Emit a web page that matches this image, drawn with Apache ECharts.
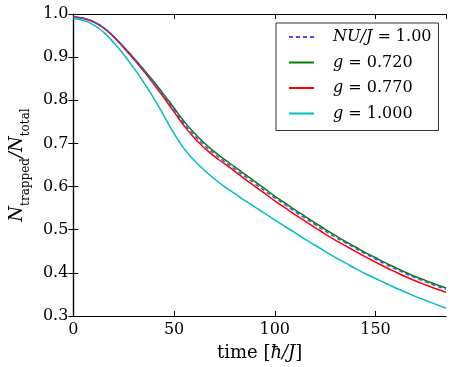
<!DOCTYPE html>
<html>
<head>
<meta charset="utf-8">
<script src="https://cdn.jsdelivr.net/npm/echarts@6/dist/echarts.min.js"></script>
<style>
  html, body { margin: 0; padding: 0; background: #fff; }
  #chart { width: 453px; height: 367px; }
</style>
</head>
<body>
<div id="chart"></div>
<script>
// time axis (hbar/J), one sample every 5
const times = [0, 5, 10, 15, 20, 25, 30, 35, 40, 45, 50, 55, 60, 65, 70, 75, 80, 85, 90, 95,
  100, 105, 110, 115, 120, 125, 130, 135, 140, 145, 150, 155, 160, 165, 170, 175, 180, 185];

// N_trapped / N_total
const ratioNU = [0.993, 0.990, 0.982, 0.968, 0.948, 0.923, 0.897, 0.869, 0.840, 0.810, 0.778, 0.746,
  0.719, 0.696, 0.676, 0.658, 0.641, 0.624, 0.607, 0.590, 0.574, 0.558, 0.542, 0.527, 0.512, 0.497,
  0.483, 0.470, 0.457, 0.444, 0.432, 0.420, 0.409, 0.398, 0.388, 0.379, 0.370, 0.362];
const ratioG072 = [0.993, 0.990, 0.982, 0.968, 0.948, 0.924, 0.898, 0.871, 0.843, 0.813, 0.782, 0.751,
  0.724, 0.701, 0.681, 0.663, 0.646, 0.629, 0.612, 0.595, 0.578, 0.562, 0.546, 0.531, 0.516, 0.501,
  0.487, 0.473, 0.460, 0.447, 0.435, 0.423, 0.412, 0.401, 0.391, 0.382, 0.373, 0.365];
const ratioG077 = [0.993, 0.990, 0.982, 0.968, 0.947, 0.922, 0.895, 0.867, 0.837, 0.806, 0.773, 0.741,
  0.713, 0.690, 0.670, 0.653, 0.636, 0.618, 0.601, 0.584, 0.567, 0.551, 0.535, 0.520, 0.505, 0.490,
  0.476, 0.463, 0.450, 0.437, 0.425, 0.413, 0.402, 0.391, 0.381, 0.372, 0.363, 0.355];
const ratioG100 = [0.989, 0.985, 0.975, 0.958, 0.934, 0.906, 0.875, 0.841, 0.804, 0.764, 0.723, 0.688,
  0.661, 0.638, 0.618, 0.600, 0.584, 0.568, 0.553, 0.538, 0.523, 0.508, 0.493, 0.478, 0.464, 0.450,
  0.436, 0.423, 0.410, 0.398, 0.387, 0.376, 0.365, 0.355, 0.345, 0.336, 0.327, 0.318];

const xTicks = [0, 50, 100, 150];
const yTicks = [0.3, 0.4, 0.5, 0.6, 0.7, 0.8, 0.9, 1.0];

const serif = "'DejaVu Serif', 'Liberation Serif', serif";

function pairs(ys) {
  return times.map((t, i) => [t, ys[i]]);
}

// legend labels with italic symbols
const legendText = {
  "NU/J = 1.00": "{i|NU/J} = 1.00",
  "g = 0.720": "{i|g} = 0.720",
  "g = 0.770": "{i|g} = 0.770",
  "g = 1.000": "{i|g} = 1.000",
};

function line(name, ys, color, dashed, z) {
  return {
    name: name,
    type: "line",
    data: pairs(ys),
    showSymbol: false,
    symbol: "none",
    smooth: 0.5,
    z: z,
    lineStyle: { color: color, width: 1.5, type: dashed ? [4, 3] : "solid" },
    itemStyle: { color: color },
  };
}

const tickCommon = {
  axisLine: { show: true, lineStyle: { color: "#000", width: 1.2 } },
  axisTick: { show: true, inside: true, length: 5, lineStyle: { color: "#000", width: 1 } },
  splitLine: { show: false },
};

const chart = echarts.init(document.getElementById("chart"));
chart.setOption({
  animation: false,
  backgroundColor: "#fff",
  grid: { left: 55, right: 7, top: 14, bottom: 51, containLabel: false },
  legend: {
    orient: "vertical",
    left: 276,
    top: 23,
    padding: [6, 7, 9, 12],
    itemWidth: 25,
    itemHeight: 14,
    itemGap: 9.5,
    borderColor: "#333",
    borderWidth: 1,
    backgroundColor: "#fff",
    itemStyle: { opacity: 0 },
    data: ["NU/J = 1.00", "g = 0.720", "g = 0.770", "g = 1.000"],
    formatter: (n) => legendText[n],
    textStyle: {
      fontFamily: serif,
      fontSize: 16,
      lineHeight: 14,
      color: "#000",
      padding: [0, 0, 0, 14],
      rich: { i: { fontFamily: serif, fontStyle: "italic", fontSize: 16, lineHeight: 14, color: "#000" } },
    },
  },
  xAxis: [
    Object.assign({
      type: "value",
      min: 0,
      max: 185,
      interval: 50,
      name: "{n|time [}{i|ħ/J}{n|]}",
      nameLocation: "middle",
      nameGap: 28,
      nameTextStyle: {
        rich: {
          n: { fontFamily: serif, fontSize: 18, color: "#000" },
          i: { fontFamily: serif, fontSize: 18, fontStyle: "italic", color: "#000" },
        },
      },
      axisLabel: {
        fontFamily: serif,
        fontSize: 16,
        color: "#000",
        margin: 6,
        showMaxLabel: false,
        formatter: (v) => (xTicks.includes(v) ? String(v) : ""),
      },
    }, tickCommon),
    Object.assign({
      type: "value",
      position: "top",
      min: 0,
      max: 185,
      interval: 50,
      axisLabel: { show: false },
    }, tickCommon),
  ],
  yAxis: [
    Object.assign({
      type: "value",
      min: 0.3,
      max: 1.0,
      interval: 0.1,
      name: "{n|N}{s|trapped}{n|/N}{s|total}",
      nameLocation: "middle",
      nameGap: 36,
      nameRotate: 90,
      nameTextStyle: {
        rich: {
          n: { fontFamily: serif, fontSize: 18, fontStyle: "italic", color: "#000", lineHeight: 24, verticalAlign: "top" },
          s: { fontFamily: serif, fontSize: 12, color: "#000", lineHeight: 24, verticalAlign: "bottom", padding: [8, 0, 0, 0] },
        },
      },
      axisLabel: {
        fontFamily: serif,
        fontSize: 16,
        color: "#000",
        margin: 5,
        formatter: (v) => {
          const t = yTicks.find((y) => Math.abs(y - v) < 1e-6);
          return t === undefined ? "" : t.toFixed(1);
        },
      },
    }, tickCommon),
    Object.assign({
      type: "value",
      position: "right",
      min: 0.3,
      max: 1.0,
      interval: 0.1,
      axisLabel: { show: false },
    }, tickCommon),
  ],
  series: [
    line("NU/J = 1.00", ratioNU, "#4d4dff", true, 5),
    line("g = 0.720", ratioG072, "#008000", false, 3),
    line("g = 0.770", ratioG077, "#ff0000", false, 3),
    line("g = 1.000", ratioG100, "#00bfbf", false, 3),
  ],
});
</script>
</body>
</html>
